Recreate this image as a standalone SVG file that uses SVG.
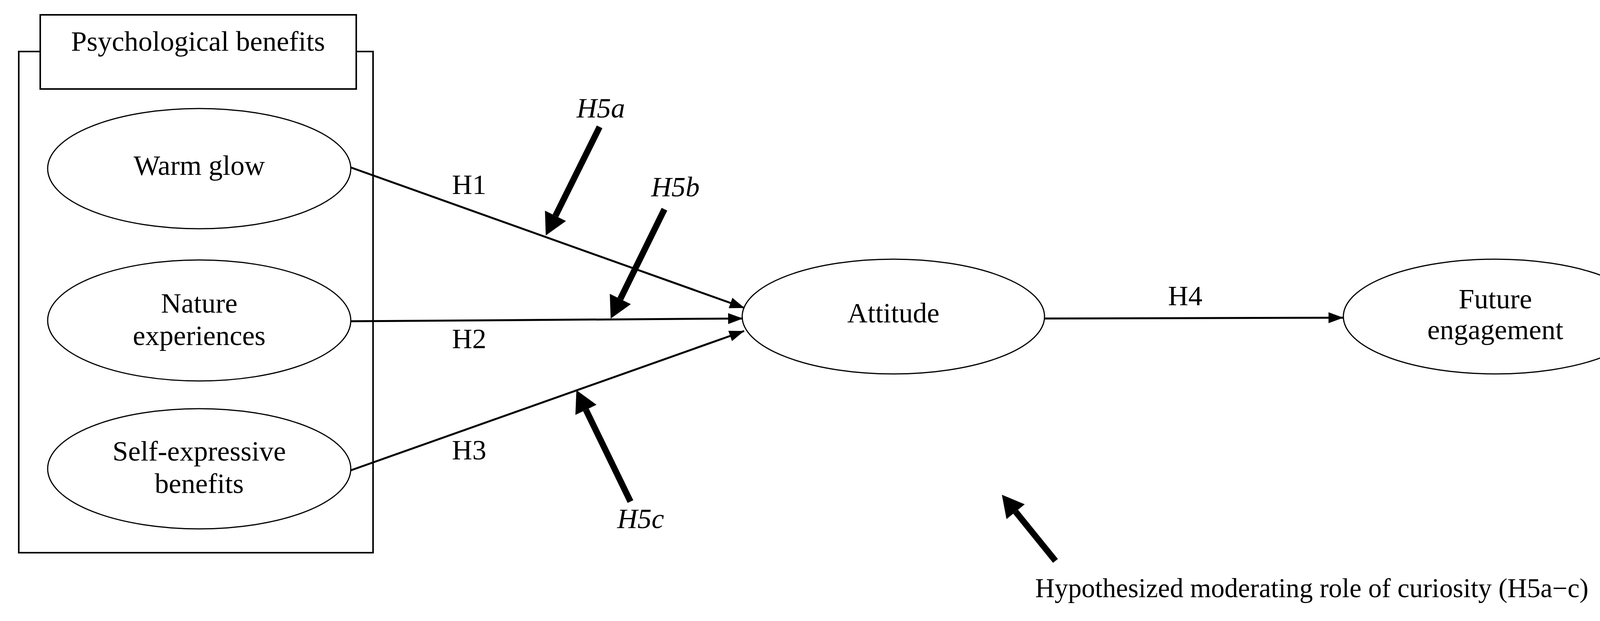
<svg xmlns="http://www.w3.org/2000/svg" width="4241" height="1591" viewBox="0 0 4241 1591">
<style>
.t{font-family:"Liberation Serif","Times New Roman",serif;font-size:72px;fill:#000}
.c{text-anchor:middle}
.i{font-style:italic}
.node{fill:#fff;stroke:#000;stroke-width:3}
.box{fill:#fff;stroke:#000;stroke-width:4}
.con{fill:none;stroke:#000;stroke-width:5}
.mod{fill:none;stroke:#000;stroke-width:16}
</style>
<defs>
<marker id="ah" markerUnits="userSpaceOnUse" markerWidth="38" markerHeight="28" refX="38" refY="14" orient="auto" overflow="visible">
<path d="M0,0 L38,14 L0,28 Z" fill="#000"/>
</marker>
<marker id="mh" markerUnits="userSpaceOnUse" markerWidth="56" markerHeight="60" refX="0" refY="30" orient="auto" overflow="visible">
<path d="M0,0 L56,30 L0,60 Z" fill="#000"/>
</marker>
</defs>
<rect width="4241" height="1591" fill="#fff"/>
<g id="group-psychological-benefits">
<rect class="box" x="48" y="132" width="907" height="1284"/>
<rect class="box" x="103" y="38" width="809" height="190"/>
<text class="t c" x="507" y="130">Psychological benefits</text>
</g>
<g id="node-warm-glow">
<ellipse class="node" cx="510" cy="432" rx="388" ry="154"/>
<text class="t c" x="510" y="448">Warm glow</text>
</g>
<g id="node-nature">
<ellipse class="node" cx="510" cy="821" rx="388" ry="155"/>
<text class="t c" x="510" y="801">Nature</text>
<text class="t c" x="510" y="884">experiences</text>
</g>
<g id="node-self">
<ellipse class="node" cx="510" cy="1201" rx="388" ry="154"/>
<text class="t c" x="510" y="1180">Self-expressive</text>
<text class="t c" x="510" y="1263">benefits</text>
</g>
<g id="node-attitude">
<ellipse class="node" cx="2287" cy="811" rx="387" ry="147"/>
<text class="t c" x="2287" y="826">Attitude</text>
</g>
<g id="node-future">
<ellipse class="node" cx="3828" cy="811" rx="389" ry="147"/>
<text class="t c" x="3828" y="790">Future</text>
<text class="t c" x="3828" y="869">engagement</text>
</g>
<g id="connectors">
<line class="con" x1="898" y1="429" x2="1906" y2="789" marker-end="url(#ah)"/>
<line class="con" x1="898" y1="823" x2="1902" y2="816" marker-end="url(#ah)"/>
<line class="con" x1="898" y1="1205" x2="1905" y2="848" marker-end="url(#ah)"/>
<line class="con" x1="2675" y1="816" x2="3439" y2="814" marker-end="url(#ah)"/>
<line class="mod" x1="1535" y1="325" x2="1422" y2="553" marker-end="url(#mh)"/>
<line class="mod" x1="1701" y1="536" x2="1588" y2="766" marker-end="url(#mh)"/>
<line class="mod" x1="1614" y1="1285" x2="1500" y2="1050" marker-end="url(#mh)"/>
<line class="mod" x1="2702" y1="1437" x2="2600" y2="1311" marker-end="url(#mh)"/>
<text class="t" x="1157" y="497">H1</text>
<text class="t" x="1157" y="892">H2</text>
<text class="t" x="1157" y="1177">H3</text>
<text class="t" x="2990" y="782">H4</text>
<text class="t i" x="1476" y="301">H5a</text>
<text class="t i" x="1667" y="503">H5b</text>
<text class="t i" x="1580" y="1353">H5c</text>
</g>
<text id="caption" class="t" x="2650" y="1530" style="font-size:69px">Hypothesized moderating role of curiosity (H5a−c)</text>
</svg>
